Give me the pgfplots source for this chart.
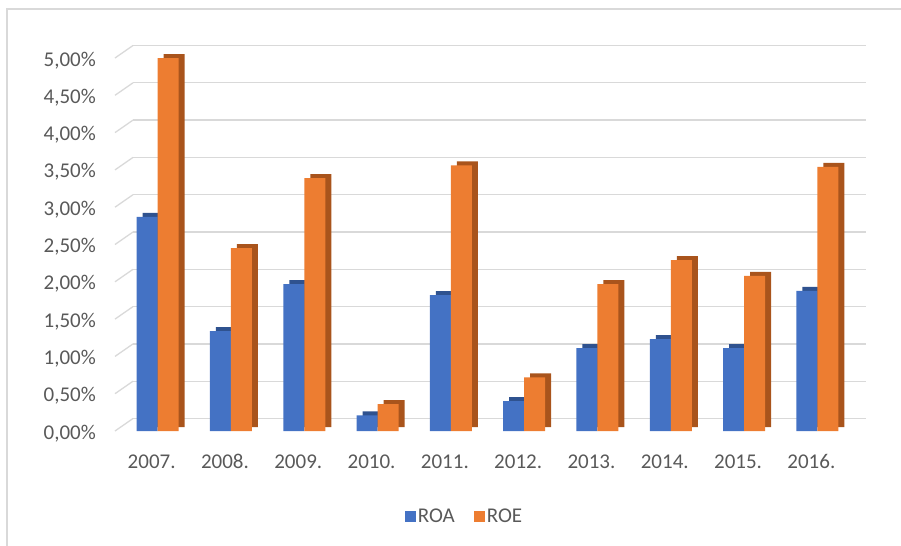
\documentclass[border=0pt]{standalone}
\usepackage{fontspec}
\setmainfont{Carlito}
\usepackage{pgfplots}
\usepackage{pgfplotstable}
\pgfplotsset{compat=1.18}
\definecolor{roa}{HTML}{4472C4}
\definecolor{roaD}{HTML}{2F528F}
\definecolor{roe}{HTML}{ED7D31}
\definecolor{roeD}{HTML}{A9541C}
\definecolor{txt}{HTML}{595959}
\definecolor{grd}{HTML}{D9D9D9}

\pgfplotstableread{
x roa roe
0 2.87 5.00
1 1.34 2.45
2 1.97 3.39
3 0.21 0.36
4 1.82 3.56
5 0.40 0.72
6 1.11 1.97
7 1.23 2.29
8 1.11 2.08
9 1.88 3.54
}\data

\begin{document}
\begin{tikzpicture}
\useasboundingbox (0,0) rectangle (901bp,-546bp);
\draw[grd, line width=1.2bp] (7bp,-546bp) -- (7bp,-9bp) -- (901bp,-9bp);
\begin{axis}[
  at={(121bp,-431bp)}, anchor=south west,
  scale only axis, width=733bp, height=373bp,
  xmin=-0.5, xmax=9.5, ymin=0, ymax=5,
  clip=false,
  axis line style={draw=none},
  major tick length=0pt,
  font=\fontsize{21bp}{25bp}\selectfont,
  /pgf/number format/assume math mode=true,
  ytick={0,0.5,1,1.5,2,2.5,3,3.5,4,4.5,5},
  yticklabel={\pgfmathprintnumber[fixed,fixed zerofill,precision=2,use comma]{\tick}\%},
  yticklabel style={anchor=base east, inner sep=0pt, xshift=-25bp, yshift=-8bp, text=txt},
  xtick={0,...,9},
  xticklabels={2007.,2008.,2009.,2010.,2011.,2012.,2013.,2014.,2015.,2016.},
  xticklabel style={anchor=base, inner sep=0pt, yshift=-37bp, xshift=-6bp, text=txt},
  ymajorgrids,
  major grid style={grd, line width=1.3bp, xshift=12bp, yshift=12.5bp},
  legend style={draw=none, fill=none, legend columns=-1,
    at={(axis description cs:0.4686,-0.2279)}, anchor=center,
    font=\fontsize{21bp}{25bp}\selectfont, text=txt,
    /tikz/every even column/.append style={column sep=17bp}},
  legend cell align=left,
]
\pgfplotsinvokeforeach{0,0.5,1,1.5,2,2.5,3,3.5,4,4.5,5}{
  \draw[grd, line width=1.3bp] ([xshift=-6bp]axis cs:-0.5,#1) -- ([xshift=12bp,yshift=12.5bp]axis cs:-0.5,#1);
}
\addplot[ybar, bar width=21bp, bar shift=-10.5bp, fill=roaD, draw=none, xshift=6bp, yshift=4bp, forget plot] table[x=x,y=roa]{\data};
\addplot[ybar, bar width=21bp, bar shift=-10.5bp, fill=roa, draw=none,
  legend image code/.code={\fill[roa] (0bp,-5.5bp) rectangle (11bp,5.5bp);}] table[x=x,y=roa]{\data};
\addlegendentry{ROA}
\addplot[ybar, bar width=21bp, bar shift=10.5bp, fill=roeD, draw=none, xshift=6bp, yshift=4bp, forget plot] table[x=x,y=roe]{\data};
\addplot[ybar, bar width=21bp, bar shift=10.5bp, fill=roe, draw=none,
  legend image code/.code={\fill[roe] (0bp,-5.5bp) rectangle (11bp,5.5bp);}] table[x=x,y=roe]{\data};
\addlegendentry{ROE}
\end{axis}
\end{tikzpicture}
\end{document}
